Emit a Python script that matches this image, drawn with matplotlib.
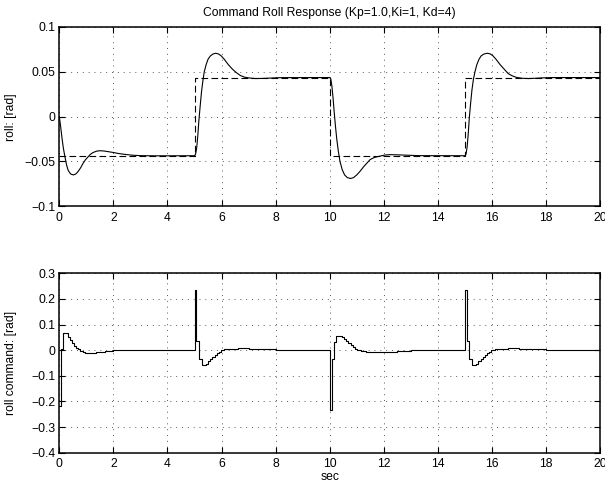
import matplotlib
matplotlib.use("Agg")
import matplotlib.pyplot as plt

plt.rcParams['font.family'] = ['Liberation Sans', 'DejaVu Sans']
plt.rcParams['font.size'] = 8.7

# roll response [rad]
roll_t = [0, 0.05, 0.10, 0.15, 0.21, 0.27, 0.33, 0.42, 0.52, 0.61, 0.70, 0.79, 0.88,
          0.97, 1.06, 1.15, 1.25, 1.38, 1.50, 1.65, 1.80, 2.00, 2.17, 2.40, 2.70, 3.00,
          3.50, 5.00,
          5.04, 5.08, 5.12, 5.16, 5.21, 5.26, 5.31, 5.36, 5.43, 5.50, 5.58, 5.68, 5.78,
          5.88, 5.98, 6.10, 6.25, 6.40, 6.55, 6.70, 6.85, 7.00, 7.25, 7.50, 7.80, 8.20,
          10.00,
          10.04, 10.08, 10.12, 10.16, 10.21, 10.26, 10.32, 10.38, 10.46, 10.55, 10.65,
          10.77, 10.88, 11.00, 11.12, 11.25, 11.37, 11.49, 11.65, 11.86, 12.05, 12.23,
          12.50, 12.85, 13.30, 15.00,
          15.04, 15.08, 15.12, 15.16, 15.21, 15.26, 15.31, 15.37, 15.44, 15.52, 15.60,
          15.70, 15.83, 15.93, 16.03, 16.15, 16.30, 16.45, 16.60, 16.75, 16.90, 17.10,
          17.35, 17.60, 17.90, 18.30, 20.00]
roll_v = [0, -0.011, -0.024, -0.035, -0.045, -0.054, -0.060, -0.064, -0.065, -0.064,
          -0.061, -0.057, -0.052, -0.048, -0.045, -0.042, -0.040, -0.0385, -0.038,
          -0.0383, -0.039, -0.040, -0.041, -0.042, -0.043, -0.0435, -0.0437, -0.0436,
          -0.042, -0.035, -0.022, -0.005, 0.012, 0.028, 0.040, 0.050, 0.058, 0.064,
          0.0675, 0.0698, 0.0707, 0.070, 0.068, 0.064, 0.058, 0.053, 0.049, 0.0458,
          0.044, 0.0432, 0.0425, 0.0426, 0.0430, 0.0435, 0.0436,
          0.042, 0.034, 0.022, 0.007, -0.010, -0.025, -0.039, -0.050, -0.059, -0.065,
          -0.068, -0.069, -0.068, -0.065, -0.061, -0.056, -0.052, -0.048, -0.0455,
          -0.0440, -0.0428, -0.0424, -0.0426, -0.0430, -0.0435, -0.0436,
          -0.042, -0.034, -0.020, -0.002, 0.015, 0.030, 0.041, 0.050, 0.058, 0.064,
          0.0678, 0.0698, 0.0707, 0.0700, 0.068, 0.064, 0.058, 0.053, 0.048, 0.0455,
          0.0438, 0.0428, 0.0425, 0.0428, 0.0433, 0.0436, 0.0436]

# commanded roll reference (step changes)
ref_t = [0, 5, 10, 15, 20]
ref_v = [-0.0436, 0.0436, -0.0436, 0.0436, 0.0436]

# roll command output (sampled, held)
cmd_t = [0.00, 0.05, 0.13, 0.33, 0.41, 0.48, 0.55, 0.63, 0.70, 0.78, 0.86, 0.95, 1.05,
         1.15, 1.25, 1.35, 1.50, 1.70, 2.00, 2.50,
         5.00, 5.07, 5.15, 5.28, 5.42, 5.50, 5.58, 5.66, 5.74, 5.82, 5.90, 5.98, 6.10,
         6.30, 6.60, 7.00, 7.50, 8.00, 8.50,
         10.00, 10.09, 10.16, 10.25, 10.45, 10.53, 10.61, 10.69, 10.77, 10.85, 10.93,
         11.01, 11.15, 11.35, 11.60, 12.00, 12.50, 13.00, 13.50,
         15.00, 15.08, 15.15, 15.27, 15.42, 15.50, 15.58, 15.66, 15.74, 15.82, 15.90,
         15.98, 16.10, 16.30, 16.60, 17.00, 17.50, 18.00, 18.50, 20.00]
cmd_v = [-0.218, 0.004, 0.068, 0.053, 0.040, 0.027, 0.016, 0.009, 0.003, -0.002,
         -0.006, -0.009, -0.010, -0.010, -0.009, -0.007, -0.005, -0.002, 0.000, 0.001,
         0.235, 0.037, -0.036, -0.057, -0.052, -0.043, -0.036, -0.028, -0.019, -0.012,
         -0.006, -0.001, 0.003, 0.006, 0.007, 0.006, 0.003, 0.001, 0.000,
         -0.234, -0.036, 0.033, 0.055, 0.050, 0.043, 0.035, 0.027, 0.019, 0.012, 0.006,
         0.001, -0.003, -0.006, -0.007, -0.005, -0.002, -0.001, 0.000,
         0.235, 0.037, -0.036, -0.057, -0.052, -0.043, -0.036, -0.028, -0.019, -0.012,
         -0.006, -0.001, 0.003, 0.006, 0.007, 0.006, 0.003, 0.001, 0.000, 0.000]

x_ticks = list(range(0, 21, 2))
top_yticks = [-0.1, -0.05, 0, 0.05, 0.1]
top_ylabels = ['\u22120.1', '\u22120.05', '0', '0.05', '0.1']
bot_yticks = [-0.4, -0.3, -0.2, -0.1, 0, 0.1, 0.2, 0.3]
bot_ylabels = ['\u22120.4', '\u22120.3', '\u22120.2', '\u22120.1', '0', '0.1', '0.2', '0.3']


def style(ax):
    ax.grid(True, color='0.35', linestyle=(0, (1, 5)), linewidth=0.7)
    ax.tick_params(direction='in', top=True, right=True, length=4, width=0.8,
                   labelsize=8.7, colors='k')
    ax.tick_params(axis='x', pad=4)
    ax.tick_params(axis='y', pad=3)
    for s in ax.spines.values():
        s.set_linewidth(1.1)
    ax.set_xlim(0, 20)
    ax.set_xticks(x_ticks)


fig = plt.figure(figsize=(6.05, 4.86), dpi=100)
ax1 = fig.add_axes([0.098, 0.5755, 0.894, 0.369])
ax2 = fig.add_axes([0.098, 0.0685, 0.894, 0.369])

ax1.plot(ref_t, ref_v, drawstyle='steps-post', color='k', linestyle=(0, (6, 3)),
         linewidth=0.8)
ax1.plot(roll_t, roll_v, color='k', linewidth=0.8)
style(ax1)
ax1.set_ylim(-0.1, 0.1)
ax1.set_yticks(top_yticks, top_ylabels)
ax1.set_title('Command Roll Response (Kp=1.0,Ki=1, Kd=4)', fontsize=8.7, pad=8)

ax2.plot(cmd_t, cmd_v, drawstyle='steps-post', color='k', linewidth=0.8)
style(ax2)
ax2.set_ylim(-0.4, 0.3)
ax2.set_yticks(bot_yticks, bot_ylabels)

fig.text(11 / 605, 1 - 116.7 / 486, 'roll: [rad]', rotation=90, ha='center',
         va='center', fontsize=8.7)
fig.text(11 / 605, 1 - 363 / 486, 'roll command: [rad]', rotation=90, ha='center',
         va='center', fontsize=8.7)
fig.text(329.8 / 605, 1 - 477 / 486, 'sec', ha='center', va='center', fontsize=8.7)

fig.savefig('out.png', dpi=100)
